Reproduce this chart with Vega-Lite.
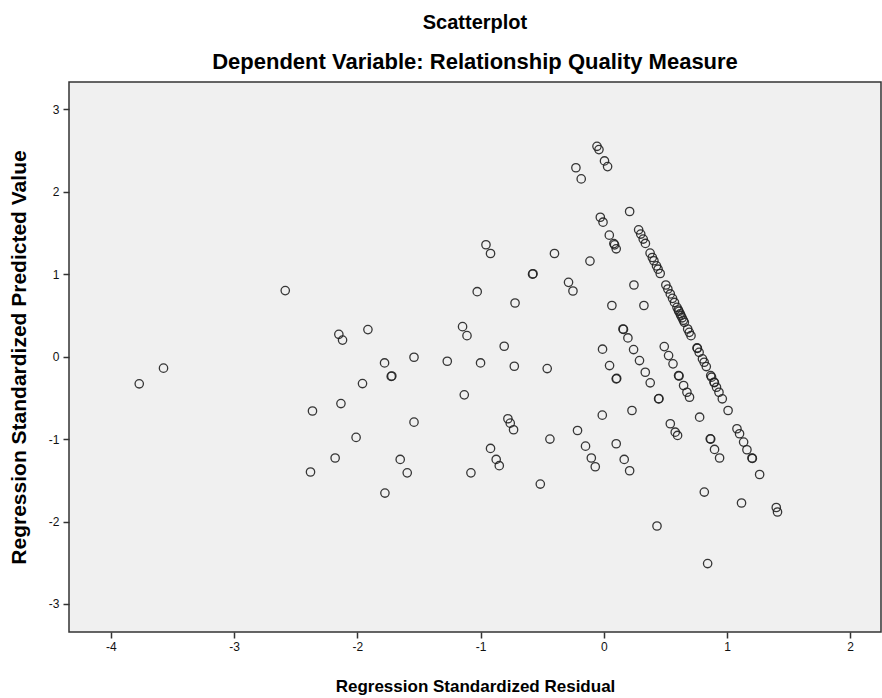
{
  "$schema": "https://vega.github.io/schema/vega-lite/v6.json",
  "width": 812,
  "height": 550,
  "autosize": {"type": "none"},
  "padding": {"left": 69, "top": 82, "right": 1, "bottom": 66},
  "background": "white",
  "title": {
    "text": "Scatterplot",
    "subtitle": "Dependent Variable: Relationship Quality Measure",
    "anchor": "middle",
    "frame": "group",
    "font": "Liberation Sans",
    "fontSize": 20,
    "fontWeight": "bold",
    "color": "#000000",
    "subtitleFont": "Liberation Sans",
    "subtitleFontSize": 22,
    "subtitleFontWeight": "bold",
    "subtitleColor": "#000000",
    "subtitlePadding": 19,
    "offset": 9
  },
  "config": {
    "view": {"fill": "#f0f0f0", "stroke": "#333333", "strokeWidth": 1.5},
    "axis": {
      "grid": false,
      "domain": false,
      "tickColor": "#333333",
      "tickSize": 6,
      "tickWidth": 1.5,
      "labelFont": "Liberation Sans",
      "labelFontSize": 12,
      "labelColor": "#111111",
      "titleFont": "Liberation Sans",
      "titleFontSize": 17,
      "titleFontWeight": "bold",
      "titleColor": "#000000",
      "labelExpr": "'' + datum.value"
    }
  },
  "data": {
    "values": [
      {"res": -3.77, "pred": -0.33},
      {"res": -3.573, "pred": -0.14},
      {"res": -2.585, "pred": 0.80},
      {"res": -2.15, "pred": 0.27},
      {"res": -2.12, "pred": 0.20},
      {"res": -2.364, "pred": -0.66},
      {"res": -2.133, "pred": -0.57},
      {"res": -2.01, "pred": -0.98},
      {"res": -2.18, "pred": -1.23},
      {"res": -2.38, "pred": -1.40},
      {"res": -1.914, "pred": 0.327},
      {"res": -1.958, "pred": -0.327},
      {"res": -1.779, "pred": -0.077},
      {"res": -1.725, "pred": -0.24},
      {"res": -1.72, "pred": -0.235},
      {"res": -1.54, "pred": -0.008},
      {"res": -1.54, "pred": -0.795},
      {"res": -1.652, "pred": -1.247},
      {"res": -1.595, "pred": -1.41},
      {"res": -1.776, "pred": -1.655},
      {"res": -1.27, "pred": -0.057},
      {"res": -1.146, "pred": 0.363},
      {"res": -1.11, "pred": 0.254},
      {"res": -1.132, "pred": -0.464},
      {"res": -1.078, "pred": -1.41},
      {"res": -1.027, "pred": 0.787},
      {"res": -1.0, "pred": -0.077},
      {"res": -0.956, "pred": 1.356},
      {"res": -0.919, "pred": 1.25},
      {"res": -0.919, "pred": -1.114},
      {"res": -0.873, "pred": -1.247},
      {"res": -0.848, "pred": -1.323},
      {"res": -0.808, "pred": 0.125},
      {"res": -0.778, "pred": -0.754},
      {"res": -0.759, "pred": -0.807},
      {"res": -0.732, "pred": -0.887},
      {"res": -0.726, "pred": -0.117},
      {"res": -0.72, "pred": 0.65},
      {"res": -0.578, "pred": 1.0},
      {"res": -0.574, "pred": 1.005},
      {"res": -0.515, "pred": -1.546},
      {"res": -0.459, "pred": -0.145},
      {"res": -0.437, "pred": -1.0},
      {"res": -0.40, "pred": 1.25},
      {"res": -0.286, "pred": 0.90},
      {"res": -0.25, "pred": 0.795},
      {"res": -0.226, "pred": 2.29},
      {"res": -0.213, "pred": -0.896},
      {"res": -0.183, "pred": 2.155},
      {"res": -0.148, "pred": -1.086},
      {"res": -0.112, "pred": 1.158},
      {"res": -0.101, "pred": -1.23},
      {"res": -0.069, "pred": -1.336},
      {"res": -0.055, "pred": 2.55},
      {"res": -0.039, "pred": 2.51},
      {"res": -0.028, "pred": 1.69},
      {"res": -0.006, "pred": 1.63},
      {"res": -0.01, "pred": 0.09},
      {"res": -0.012, "pred": -0.71},
      {"res": 0.006, "pred": 2.373},
      {"res": 0.031, "pred": 2.304},
      {"res": 0.045, "pred": 1.473},
      {"res": 0.082, "pred": 1.37},
      {"res": 0.088, "pred": 1.355},
      {"res": 0.101, "pred": 1.307},
      {"res": 0.047, "pred": -0.109},
      {"res": 0.066, "pred": 0.62},
      {"res": 0.101, "pred": -0.27},
      {"res": 0.105, "pred": -0.265},
      {"res": 0.101, "pred": -1.057},
      {"res": 0.156, "pred": 0.335},
      {"res": 0.16, "pred": 0.33},
      {"res": 0.166, "pred": -1.247},
      {"res": 0.196, "pred": 0.226},
      {"res": 0.21, "pred": 1.76},
      {"res": 0.21, "pred": -1.384},
      {"res": 0.229, "pred": -0.654},
      {"res": 0.242, "pred": 0.085},
      {"res": 0.245, "pred": 0.868},
      {"res": 0.29, "pred": -0.048},
      {"res": 0.326, "pred": 0.62},
      {"res": 0.337, "pred": -0.19},
      {"res": 0.377, "pred": -0.318},
      {"res": 0.432, "pred": -2.054},
      {"res": 0.445, "pred": -0.512},
      {"res": 0.448, "pred": -0.51},
      {"res": 0.283, "pred": 1.537},
      {"res": 0.300, "pred": 1.486},
      {"res": 0.320, "pred": 1.425},
      {"res": 0.338, "pred": 1.372},
      {"res": 0.376, "pred": 1.255},
      {"res": 0.394, "pred": 1.202},
      {"res": 0.407, "pred": 1.162},
      {"res": 0.428, "pred": 1.10},
      {"res": 0.441, "pred": 1.06},
      {"res": 0.458, "pred": 1.008},
      {"res": 0.504, "pred": 0.868},
      {"res": 0.520, "pred": 0.82},
      {"res": 0.540, "pred": 0.76},
      {"res": 0.558, "pred": 0.706},
      {"res": 0.574, "pred": 0.657},
      {"res": 0.594, "pred": 0.597},
      {"res": 0.605, "pred": 0.565},
      {"res": 0.610, "pred": 0.548},
      {"res": 0.620, "pred": 0.52},
      {"res": 0.627, "pred": 0.496},
      {"res": 0.636, "pred": 0.47},
      {"res": 0.646, "pred": 0.44},
      {"res": 0.654, "pred": 0.415},
      {"res": 0.681, "pred": 0.335},
      {"res": 0.694, "pred": 0.294},
      {"res": 0.708, "pred": 0.254},
      {"res": 0.757, "pred": 0.105},
      {"res": 0.760, "pred": 0.10},
      {"res": 0.774, "pred": 0.052},
      {"res": 0.801, "pred": -0.028},
      {"res": 0.815, "pred": -0.069},
      {"res": 0.832, "pred": -0.121},
      {"res": 0.868, "pred": -0.23},
      {"res": 0.875, "pred": -0.25},
      {"res": 0.895, "pred": -0.311},
      {"res": 0.898, "pred": -0.315},
      {"res": 0.915, "pred": -0.372},
      {"res": 0.935, "pred": -0.432},
      {"res": 0.962, "pred": -0.512},
      {"res": 1.009, "pred": -0.654},
      {"res": 0.491, "pred": 0.121},
      {"res": 0.526, "pred": 0.012},
      {"res": 0.562, "pred": -0.088},
      {"res": 0.607, "pred": -0.23},
      {"res": 0.611, "pred": -0.235},
      {"res": 0.648, "pred": -0.351},
      {"res": 0.675, "pred": -0.432},
      {"res": 0.696, "pred": -0.493},
      {"res": 0.54, "pred": -0.815},
      {"res": 0.58, "pred": -0.917},
      {"res": 0.599, "pred": -0.956},
      {"res": 0.778, "pred": -0.735},
      {"res": 0.816, "pred": -1.643},
      {"res": 0.843, "pred": -2.51},
      {"res": 0.864, "pred": -0.997},
      {"res": 0.868, "pred": -1.0},
      {"res": 0.899, "pred": -1.126},
      {"res": 0.94, "pred": -1.23},
      {"res": 1.081, "pred": -0.875},
      {"res": 1.102, "pred": -0.936},
      {"res": 1.135, "pred": -1.037},
      {"res": 1.162, "pred": -1.13},
      {"res": 1.203, "pred": -1.23},
      {"res": 1.206, "pred": -1.235},
      {"res": 1.265, "pred": -1.43},
      {"res": 1.118, "pred": -1.776},
      {"res": 1.40, "pred": -1.83},
      {"res": 1.41, "pred": -1.885}
    ]
  },
  "mark": {"type": "point", "shape": "circle", "filled": false, "size": 70, "stroke": "#222222", "strokeWidth": 1.3, "opacity": 0.9},
  "encoding": {
    "x": {
      "field": "res",
      "type": "quantitative",
      "title": "Regression Standardized Residual",
      "scale": {"domain": [-4.34, 2.25], "nice": false, "zero": false},
      "axis": {"values": [-4, -3, -2, -1, 0, 1, 2], "labelPadding": 3, "titlePadding": 26}
    },
    "y": {
      "field": "pred",
      "type": "quantitative",
      "title": "Regression Standardized Predicted Value",
      "scale": {"domain": [-3.34, 3.33], "nice": false, "zero": false},
      "axis": {"values": [-3, -2, -1, 0, 1, 2, 3], "labelPadding": 4, "titlePadding": 19, "titleFontSize": 21}
    }
  }
}
